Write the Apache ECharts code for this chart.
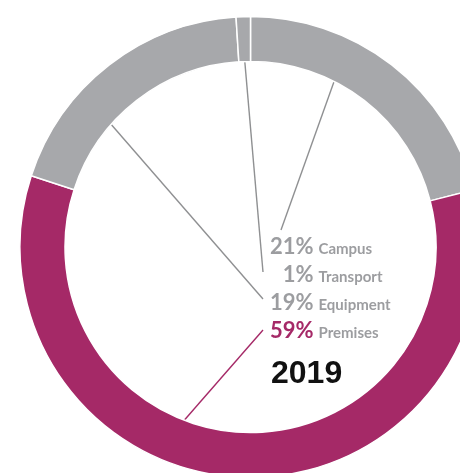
<!DOCTYPE html>
<html>
<head>
<meta charset="utf-8">
<script src="https://cdn.jsdelivr.net/npm/echarts@6/dist/echarts.min.js"></script>
<style>
  html, body { margin: 0; padding: 0; background: #ffffff; }
  #chart { width: 460px; height: 473px; }
</style>
</head>
<body>
<div id="chart"></div>
<script>
// Spending shares for 2019, clockwise from 12 o'clock
const categories = ['Campus', 'Premises', 'Equipment', 'Transport'];
const shares = [21, 59, 19, 1];
const yearLabel = '2019';

// Order of the label stack, top to bottom
const labelOrder = ['Campus', 'Transport', 'Equipment', 'Premises'];

const GREY = '#A7A8AB';
const PLUM = '#A52967';
const TEXT_GREY = '#9C9DA0';
const LINE_GREY = '#8F9092';

const CX = 250.5, CY = 247;
const PCT_FONT = 'bold 22px Lato';
const PCT_RIGHT = 313.5;   // right edge of the percentage column

// Leader lines: angle (deg, clockwise from top) and radius where each line
// leaves the ring, and the point where it meets its label.
const leaderStart = {
  Campus:    { angle: 26.4,  r: 196 },
  Transport: { angle: 358.1, r: 194 },
  Equipment: { angle: 311.8, r: 197 },
  Premises:  { angle: 201.2, r: 188 }
};
const leaderEnd = {
  Campus:    [281, 230],
  Transport: [263, 272],
  Equipment: [263, 299],
  Premises:  [263, 330]
};

function polar(angleDeg, r) {
  const a = angleDeg * Math.PI / 180;
  return [CX + r * Math.sin(a), CY - r * Math.cos(a)];
}

// Width of a percentage string, so the column can be right-aligned
const measureCtx = document.createElement('canvas').getContext('2d');
function pctWidth(text) {
  measureCtx.font = PCT_FONT;
  return measureCtx.measureText(text).width;
}

const chart = echarts.init(document.getElementById('chart'), null, { renderer: 'canvas' });

const data = categories.map(function (name, i) {
  const isPlum = name === 'Premises';
  return {
    name: name,
    value: shares[i],
    itemStyle: { color: isPlum ? PLUM : GREY },
    label: {
      rich: {
        p: { color: isPlum ? PLUM : TEXT_GREY }
      }
    },
    labelLine: { lineStyle: { color: isPlum ? PLUM : LINE_GREY } }
  };
});

chart.setOption({
  animation: false,
  backgroundColor: '#ffffff',
  title: {
    text: yearLabel,
    left: 271,
    top: 358,
    textStyle: {
      fontFamily: 'Liberation Sans',
      fontWeight: 'bold',
      fontSize: 32,
      color: '#111111'
    },
    padding: 0
  },
  series: [{
    type: 'pie',
    center: [CX, CY],
    radius: [185.5, 230.5],
    startAngle: 90,
    clockwise: true,
    avoidLabelOverlap: false,
    silent: true,
    itemStyle: { borderColor: '#ffffff', borderWidth: 1.5 },
    label: {
      show: true,
      position: 'outside',
      formatter: function (p) {
        return '{p|' + p.value + '%}{n|' + p.name + '}';
      },
      rich: {
        p: {
          fontFamily: 'Lato',
          fontWeight: 'bold',
          fontSize: 22,
          verticalAlign: 'bottom',
          color: TEXT_GREY
        },
        n: {
          fontFamily: 'Lato',
          fontWeight: 'bold',
          fontSize: 15,
          color: TEXT_GREY,
          verticalAlign: 'bottom',
          padding: [0, 0, 1, 5]
        }
      }
    },
    labelLine: {
      show: true,
      smooth: false,
      lineStyle: { width: 1.4 }
    },
    labelLayout: function (params) {
      const i = params.dataIndex;
      const name = categories[i];
      const row = labelOrder.indexOf(name);
      const s = leaderStart[name];
      const start = polar(s.angle, s.r);
      const end = leaderEnd[name];
      return {
        x: PCT_RIGHT - pctWidth(shares[i] + '%'),
        y: 247 + row * 28,
        align: 'left',
        verticalAlign: 'middle',
        labelLinePoints: [start, end, end]
      };
    },
    data: data
  }]
});
</script>
</body>
</html>
